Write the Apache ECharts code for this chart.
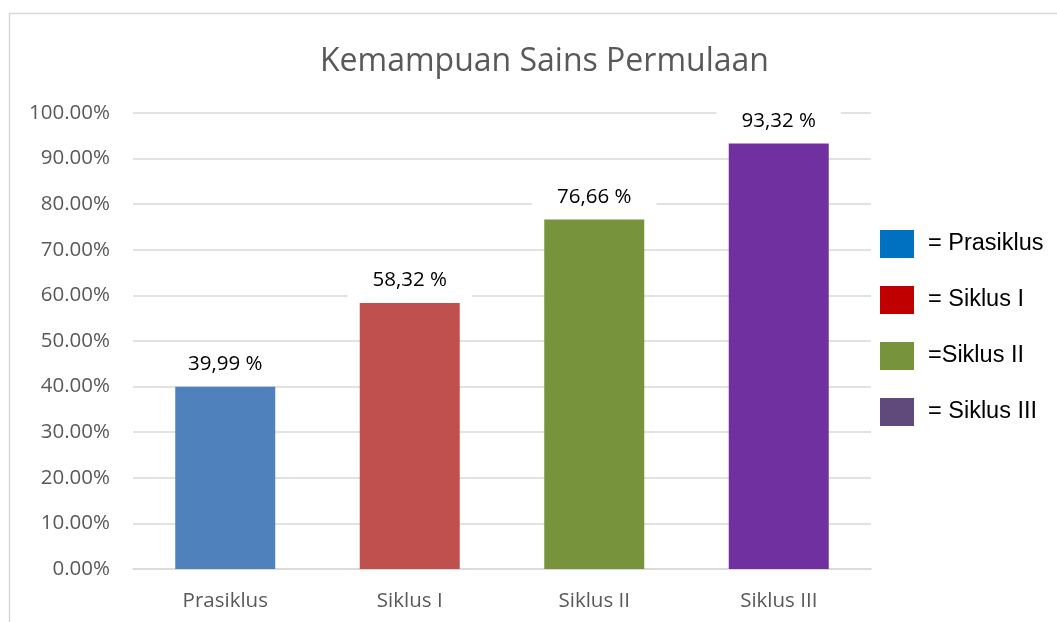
<!DOCTYPE html>
<html>
<head>
<meta charset="utf-8">
<script src="https://cdn.jsdelivr.net/npm/echarts@6/dist/echarts.min.js"></script>
<style>
  html, body { margin: 0; padding: 0; background: #fff; }
  #chart { width: 1057px; height: 622px; }
</style>
</head>
<body>
<div id="chart"></div>
<script>
  // data
  var categories = ['Prasiklus', 'Siklus I', 'Siklus II', 'Siklus III'];
  var values = [39.99, 58.32, 76.66, 93.32];
  var valueLabels = ['39,99 %', '58,32 %', '76,66 %', '93,32 %'];
  var legendNames = ['= Prasiklus', '= Siklus I', '=Siklus II', '= Siklus III'];
  var barColors = ['#4F81BD', '#C0504D', '#77933C', '#7030A0'];
  var legendColors = ['#0070C0', '#C00000', '#77933C', '#604A7B'];

  var chart = echarts.init(document.getElementById('chart'));

  var series = categories.map(function (c, i) {
    var d = categories.map(function (x, j) { return j === i ? values[i] : '-'; });
    return {
      name: legendNames[i],
      type: 'bar',
      stack: 'all',
      barWidth: 100,
      data: d,
      itemStyle: { color: barColors[i] },
      label: {
        show: true,
        position: 'top',
        distance: 3,
        formatter: function () { return valueLabels[i]; },
        color: '#000',
        fontFamily: 'Open Sans',
        fontSize: 20.5,
        backgroundColor: '#fff',
        padding: [11, 25, 9, 25]
      }
    };
  });

  var option = {
    animation: false,
    title: {
      text: 'Kemampuan Sains Permulaan',
      left: 315,
      top: 41,
      textStyle: { fontFamily: 'Open Sans', fontWeight: 'normal', fontSize: 32, color: '#595959' }
    },
    graphic: [{
      type: 'rect',
      shape: { x: 9.5, y: 13.5, width: 1100, height: 700 },
      style: { fill: 'none', stroke: '#d9d9d9', lineWidth: 1.5 },
      silent: true
    }],
    legend: {
      orient: 'vertical',
      left: 875,
      top: 225,
      itemWidth: 34,
      itemHeight: 28,
      itemGap: 28,
      icon: 'rect',
      textStyle: { fontFamily: 'Liberation Sans', fontSize: 23.5, color: '#000', padding: [0, 0, 0, 9] },
      data: legendNames.map(function (n, i) {
        return { name: n, itemStyle: { color: legendColors[i] } };
      })
    },
    grid: { left: 133, right: 186, top: 113, bottom: 53, containLabel: false },
    xAxis: {
      type: 'category',
      data: categories,
      axisLine: { lineStyle: { color: '#d9d9d9', width: 1.5 } },
      axisTick: { show: false },
      axisLabel: { fontFamily: 'Open Sans', fontSize: 20.5, color: '#595959', margin: 22 }
    },
    yAxis: {
      type: 'value',
      min: 0,
      max: 100,
      interval: 10,
      axisLine: { show: false },
      axisTick: { show: false },
      splitLine: { lineStyle: { color: '#d9d9d9', width: 1.5 } },
      axisLabel: {
        fontFamily: 'Open Sans', fontSize: 20.5, color: '#595959', margin: 23,
        formatter: function (v) { return v.toFixed(2) + '%'; }
      }
    },
    series: series
  };

  chart.setOption(option);
</script>
</body>
</html>
